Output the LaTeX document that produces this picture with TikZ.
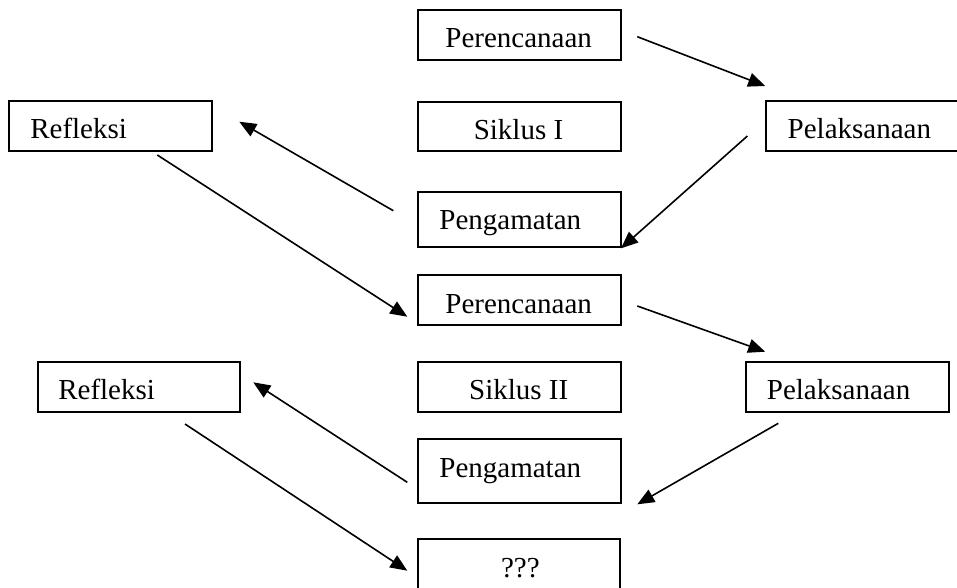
\documentclass[tikz,border=0pt]{standalone}
\usepackage{fontspec}
\setmainfont{Liberation Serif}
\usetikzlibrary{arrows.meta}
\tikzset{
  bx/.style={draw, line width=2pt, inner sep=0pt, anchor=north west, text height=37.7pt,
    font=\fontsize{29}{34}\selectfont},
  arr/.style={line width=1.6pt, -{Triangle[length=17pt,width=14pt]}}
}
\newcommand{\bt}[3]{\makebox[#1pt][l]{\hspace*{#2pt}#3}}
\begin{document}
\begin{tikzpicture}[x=1pt,y=-1pt]
\clip (0,0) rectangle (957,587);
\fill[white] (0,0) rectangle (957,587);
% boxes
\node[bx, text depth=12pt]   (p1) at (416.7,9)     {\bt{202.8}{27.7}{Perencanaan}};
\node[bx, text depth=11.9pt] (s1) at (416.7,100.7) {\bt{202.8}{56.1}{Siklus I}};
\node[bx, text depth=17.3pt] (g1) at (416.7,191)   {\bt{202.8}{21.7}{Pengamatan}};
\node[bx, text depth=12.3pt] (l1) at (765,100)     {\bt{203}{21.7}{Pelaksanaan}};
\node[bx, text depth=12.3pt] (r1) at (8.3,100)     {\bt{202.7}{21}{Refleksi}};
\node[bx, text depth=12.3pt] (p2) at (416.7,274.3) {\bt{202.8}{27.7}{Perencanaan}};
\node[bx, text depth=12.3pt] (s2) at (416.7,360.7) {\bt{202.8}{51.5}{Siklus II}};
\node[bx, text depth=26.3pt] (g2) at (416.7,438.3) {\bt{202.8}{21.7}{Pengamatan}};
\node[bx, text depth=12.3pt] (l2) at (745.3,361)   {\bt{202.5}{20.6}{Pelaksanaan}};
\node[bx, text depth=12pt]   (r2) at (36.7,361)    {\bt{202.6}{20.6}{Refleksi}};
\node[bx, text depth=12.3pt] (q)  at (416.7,538.3) {\bt{202.6}{83.3}{???}};
% arrows
\draw[arr] ([shift={(220.6,27.7)}]p1.north west) -- ([shift={(0.2,-14)}]l1.north west);
\draw[arr] ([shift={(-17.6,36)}]l1.north west) -- ([shift={(204.3,57.3)}]g1.north west);
\draw[arr] ([shift={(-23.4,19.7)}]g1.north west) -- ([shift={(231,21.7)}]r1.north west);
\draw[arr] ([shift={(149,55)}]r1.north west) -- ([shift={(-9.4,42.4)}]p2.north west);
\draw[arr] ([shift={(220.6,31.7)}]p2.north west) -- ([shift={(19.9,-9.3)}]l2.north west);
\draw[arr] ([shift={(33,62.3)}]l2.north west) -- ([shift={(220.6,66)}]g2.north west);
\draw[arr] ([shift={(-9.4,44)}]g2.north west) -- ([shift={(216.6,21.3)}]r2.north west);
\draw[arr] ([shift={(148.3,63)}]r2.north west) -- ([shift={(-9.4,32.4)}]q.north west);
\end{tikzpicture}
\end{document}
